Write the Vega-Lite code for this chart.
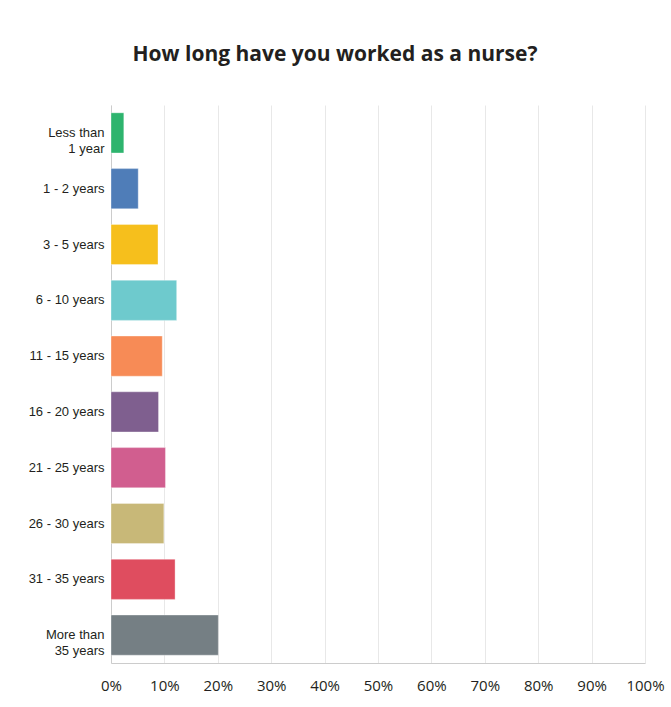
{
  "$schema": "https://vega.github.io/schema/vega-lite/v6.json",
  "autosize": {"type": "none"},
  "width": 534,
  "height": 558,
  "padding": {"left": 111, "top": 105, "right": 26, "bottom": 44},
  "background": "white",
  "title": {
    "text": "How long have you worked as a nurse?",
    "font": "Open Sans",
    "fontSize": 21,
    "fontWeight": "bold",
    "color": "#231f20",
    "anchor": "middle",
    "dx": -43,
    "offset": 40
  },
  "data": {
    "values": [
      {"answer": "Less than|1 year", "pct": 2.4, "color": "#2eb46e"},
      {"answer": "1 - 2 years", "pct": 5.1, "color": "#4f7db8"},
      {"answer": "3 - 5 years", "pct": 8.8, "color": "#f6bf1c"},
      {"answer": "6 - 10 years", "pct": 12.3, "color": "#6ecacd"},
      {"answer": "11 - 15 years", "pct": 9.6, "color": "#f78b56"},
      {"answer": "16 - 20 years", "pct": 8.9, "color": "#7f5f8f"},
      {"answer": "21 - 25 years", "pct": 10.2, "color": "#d15e8f"},
      {"answer": "26 - 30 years", "pct": 9.9, "color": "#c8b878"},
      {"answer": "31 - 35 years", "pct": 12.0, "color": "#df4d5f"},
      {"answer": "More than|35 years", "pct": 20.1, "color": "#757f84"}
    ]
  },
  "mark": {"type": "bar", "strokeWidth": 1, "strokeOpacity": 0.35, "stroke": "white"},
  "encoding": {
    "y": {
      "field": "answer",
      "type": "nominal",
      "sort": null,
      "scale": {"paddingInner": 0.28, "paddingOuter": 0.14},
      "axis": {
        "title": null,
        "ticks": false,
        "domainColor": "#cccccc",
        "labelFont": "Liberation Sans",
        "labelFontSize": 13,
        "labelColor": "#231f20",
        "labelPadding": 7,
        "labelLineHeight": 16,
        "labelExpr": "split(datum.label, '|')"
      }
    },
    "x": {
      "field": "pct",
      "type": "quantitative",
      "scale": {"domain": [0, 100], "nice": false},
      "axis": {
        "title": null,
        "values": [0, 10, 20, 30, 40, 50, 60, 70, 80, 90, 100],
        "labelExpr": "datum.value + '%'",
        "ticks": false,
        "domainColor": "#cccccc",
        "gridColor": "#e8e8e8",
        "labelFont": "Open Sans",
        "labelFontSize": 15,
        "labelColor": "#231f20",
        "labelPadding": 15,
        "labelFlush": false
      }
    },
    "color": {"field": "color", "type": "nominal", "scale": null, "legend": null}
  },
  "config": {"view": {"stroke": null}}
}
